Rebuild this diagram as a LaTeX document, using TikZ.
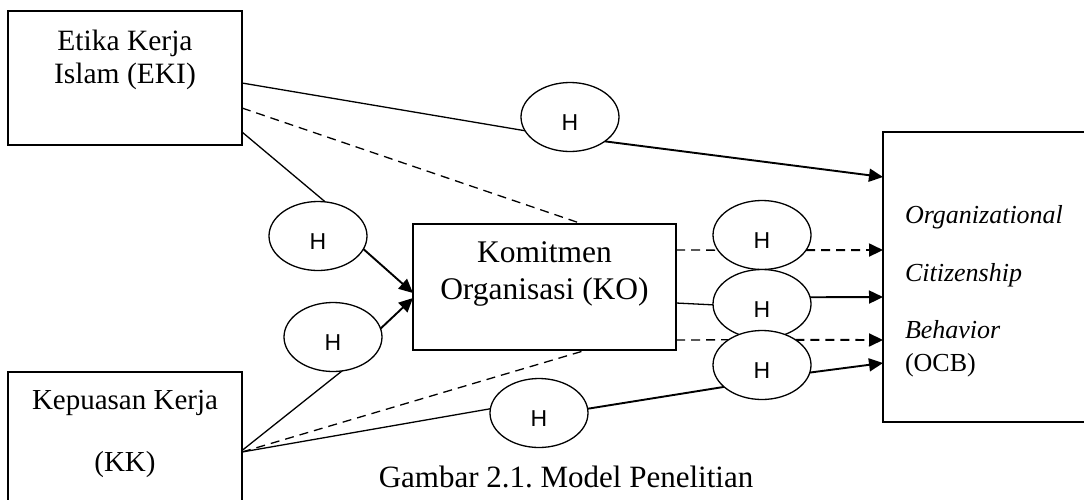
\documentclass[tikz,border=0pt]{standalone}
\usepackage{fontspec}
\setmainfont{Liberation Serif}
\newfontfamily\hypfont{Liberation Sans}
\usetikzlibrary{calc,shapes.geometric,arrows.meta}
\pgfdeclarelayer{background}
\pgfsetlayers{background,main}
\frenchspacing

\begin{document}
\begin{tikzpicture}[x=1pt,y=-1pt,inner sep=0pt,outer sep=0pt,
    box/.style={draw,line width=1.6pt,fill=white},
    hyp/.style={draw,ellipse,line width=1.3pt,fill=white,minimum width=98pt,minimum height=69pt,
        font=\hypfont\fontsize{23}{23}\selectfont,text height=26pt,text depth=0pt},
    thin/.style={line width=1.3pt},
    thick/.style={line width=1.9pt},
    dsh/.style={dash pattern=on 9pt off 6pt},
    arr/.style={-{Triangle[length=14pt,width=13pt]}}]
    \useasboundingbox (0,0) rectangle (1084,499);

    % variables
    \node[box, anchor=north west, minimum width=234pt, minimum height=134pt] (eki) at (8,11) {};
    \node[anchor=north, align=center, font=\fontsize{29.5}{33}\selectfont] (eki_txt)
    at ($(eki.north) + (0,19)$) {Etika Kerja\\Islam (EKI)};

    \node[box, anchor=north west, minimum width=234pt, minimum height=135pt] (kk) at (8,372) {};
    \node[anchor=north, align=center, font=\fontsize{29}{33}\selectfont] (kk_txt)
    at ($(kk.north) + (0,18)$) {Kepuasan Kerja\\[29pt](KK)};

    \node[box, anchor=north west, minimum width=263pt, minimum height=126pt] (ko) at (413,224) {};
    \node[anchor=north, align=center, font=\fontsize{31.5}{37}\selectfont] (ko_txt)
    at ($(ko.north) + (0,17.5)$) {Komitmen\\Organisasi (KO)};

    \node[box, anchor=north west, minimum width=220pt, minimum height=290pt] (ocb) at (883,132) {};
    \node[anchor=north west, align=left, font=\fontsize{26}{33}\selectfont] (ocb_txt)
    at ($(ocb.north west) + (22,73)$)
    {\textit{Organizational}\\[25pt]\textit{Citizenship}\\[24pt]\textit{Behavior}\\(OCB)};

    % hypotheses
    \node[hyp] (h1) at (570,117) {H};
    \node[hyp] (h2) at (318,236) {H};
    \node[hyp] (h3) at (333,337) {H};
    \node[hyp] (h4) at (539,413) {H};
    \node[hyp] (h5) at (762,235) {H};
    \node[hyp] (h6) at (762,304) {H};
    \node[hyp] (h7) at (762,365) {H};

    % caption
    \node[anchor=base, font=\fontsize{31}{31}\selectfont] (cap) at (566,487)
    {Gambar 2.1. Model Penelitian};

    % paths
    \begin{pgfonlayer}{background}
    \draw[thin] ([yshift=-5pt]eki.east) -- (h1.197);
    \draw[thick, arr] (h1.325) -- ([yshift=-45pt]ocb.north west);
    \draw[thin, dsh] ([yshift=-30pt]eki.east) -- ([xshift=38pt]ko.north);
    \draw[thin] ([yshift=-54pt]eki.east) -- (h2.78);
    \draw[thick, arr] (h2.344) -- ([yshift=-6pt]ko.west);

    \draw[thin] ([yshift=-11pt]kk.east) -- (h3.285);
    \draw[thick, arr] (h3.10) -- ([yshift=-11pt]ko.west);
    \draw[thin, dsh] ([yshift=-12.5pt]kk.east) -- ([xshift=42pt]ko.south);
    \draw[thin] ([yshift=-12.5pt]kk.east) -- (h4.175);
    \draw[thick] (h4.5) -- (h7.210);
    \draw[thick, arr] (h7.351) -- ([yshift=-231pt]ocb.north west);

    \draw[thin, dsh] ([yshift=37pt]ko.east) -- (h5.199);
    \draw[thick, dsh, arr] (h5.341) -- ([yshift=-118pt]ocb.north west);
    \draw[thin] ([yshift=-16pt]ko.east) -- (h6.181);
    \draw[thick, arr] (h6.8) -- ([yshift=-165pt]ocb.north west);
    \draw[thin, dsh] ([yshift=-53pt]ko.east) -- (h7.143);
    \draw[thick, dsh, arr] (h7.37) -- ([yshift=-208pt]ocb.north west);
    \end{pgfonlayer}

\end{tikzpicture}
\end{document}
